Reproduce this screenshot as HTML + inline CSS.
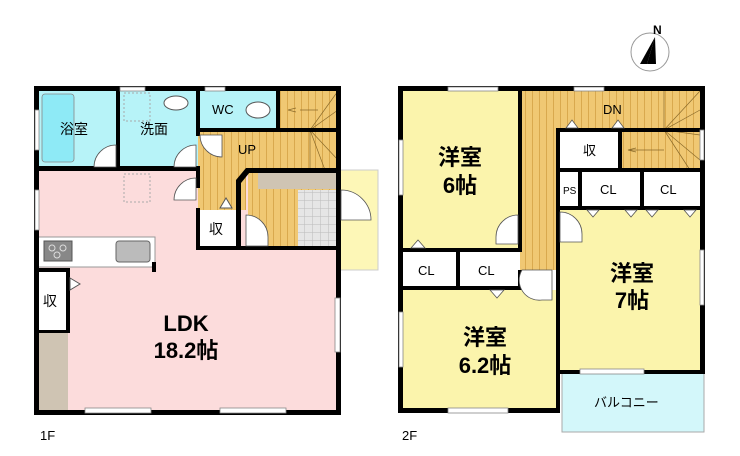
<!DOCTYPE html>
<html><head><meta charset="utf-8"><style>
html,body{margin:0;padding:0;background:#fff;}
svg{display:block;font-family:"Liberation Sans","Noto Sans CJK JP",sans-serif;}
</style></head><body>
<svg width="740" height="456" viewBox="0 0 740 456" xmlns="http://www.w3.org/2000/svg">
<defs>
<pattern id="st" width="7" height="10" patternUnits="userSpaceOnUse"><rect width="7" height="10" fill="#f0c873"/><line x1="0.5" y1="0" x2="0.5" y2="10" stroke="#d9a94e" stroke-width="1"/></pattern>
<pattern id="tile" width="8" height="8" patternUnits="userSpaceOnUse"><rect width="8" height="8" fill="#e6e6e6"/><path d="M0 0H8M0 0V8" stroke="#bbb" stroke-width="1"/></pattern>
</defs>
<circle cx="650" cy="52" r="19" fill="none" stroke="#999" stroke-width="1"/>
<polygon points="655,37 647,64 640,64" fill="#000"/><polygon points="655,37 656,64 647,64" fill="#000"/>
<text x="653" y="34" font-size="12" font-weight="bold">N</text>

<!-- ===== 1F ===== -->
<rect x="37" y="168" width="303" height="244" fill="#fcdcdc"/>
<rect x="37" y="88" width="81" height="80" fill="#b7f3f8"/>
<rect x="42" y="94" width="32" height="68" rx="3" fill="#8eeaf6" stroke="#888" stroke-width="0.8"/>
<rect x="118" y="88" width="80" height="80" fill="#b7f3f8"/>
<rect x="198" y="88" width="80" height="42" fill="#b7f3f8"/>
<rect x="278" y="88" width="60" height="82" fill="url(#st)"/>
<rect x="198" y="130" width="140" height="40" fill="url(#st)"/>
<rect x="198" y="170" width="48" height="40" fill="url(#st)"/>
<rect x="248" y="170" width="90" height="78" fill="url(#st)"/>
<g stroke="#8a6a2a" stroke-width="0.7" fill="none">
<path d="M310 130 L338 91 M310 130 L338 110 M310 130 L338 130 M310 130 L325 170 M310 130 L338 160 M310 130 V170"/>
<path d="M300 110 H318 M296 112 L288 110 L296 108"/>
</g>
<rect x="258" y="172" width="80" height="17" fill="#cfc4b3"/>
<rect x="298" y="190" width="40" height="58" fill="url(#tile)"/>
<rect x="198" y="210" width="40" height="38" fill="#fff"/>
<rect x="340" y="170" width="38" height="100" fill="#fdf7b7" stroke="#ccc" stroke-width="1"/>
<rect x="37" y="237" width="118" height="30" fill="#fff" stroke="#999" stroke-width="1"/>
<rect x="44" y="241" width="28" height="20" fill="#888" stroke="#555"/>
<circle cx="52" cy="248" r="3" fill="none" stroke="#ddd"/><circle cx="63" cy="248" r="3" fill="none" stroke="#ddd"/><circle cx="57" cy="255" r="3" fill="none" stroke="#ddd"/>
<rect x="116" y="241" width="34" height="21" rx="3" fill="#bbb" stroke="#666"/>
<rect x="37" y="272" width="31" height="58" fill="#fff"/>
<rect x="37" y="332" width="31" height="80" fill="#cfc4b3"/>
<rect x="124" y="174" width="26" height="28" fill="none" stroke="#aaa" stroke-dasharray="2,2"/>
<rect x="124" y="93" width="26" height="28" fill="none" stroke="#aaa" stroke-dasharray="2,2"/>
<ellipse cx="176" cy="103" rx="12" ry="7" fill="#fff" stroke="#555"/>
<ellipse cx="258" cy="110" rx="12" ry="8" fill="#fff" stroke="#555"/>
<g fill="#000">
<rect x="34" y="86" width="306" height="5"/>
<rect x="34" y="86" width="5" height="329"/>
<rect x="34" y="410" width="306" height="5"/>
<rect x="336" y="86" width="5" height="329"/>
<rect x="34" y="166" width="166" height="5"/>
<rect x="116" y="86" width="4" height="85"/>
<rect x="196" y="86" width="4" height="50"/>
<rect x="196" y="128" width="142" height="4"/>
<rect x="276" y="86" width="4" height="46"/>
<rect x="196" y="168" width="4" height="20"/>
<rect x="196" y="208" width="4" height="42"/>
<rect x="196" y="246" width="142" height="4"/>
<rect x="236" y="180" width="5" height="68"/>
<rect x="246" y="168" width="92" height="5"/>
<rect x="66" y="268" width="4" height="64"/>
<rect x="34" y="268" width="36" height="4"/>
<rect x="34" y="330" width="36" height="3"/>
<rect x="152" y="262" width="4" height="10"/>
</g>
<polygon points="236,180 246,168 250,172 241,183" fill="#000"/>
<g fill="#fff" stroke="#888" stroke-width="0.8">
<rect x="85" y="408" width="66" height="5"/><rect x="220" y="408" width="66" height="5"/>
<rect x="335" y="298" width="5" height="54"/>
<rect x="35" y="110" width="4" height="40"/><rect x="35" y="190" width="4" height="40"/>
<rect x="120" y="87" width="25" height="4"/><rect x="205" y="87" width="20" height="4"/>
</g>
<g fill="#fff" stroke="#555" stroke-width="0.8">
<path d="M116 145 A22 22 0 0 0 94 167 H116Z"/>
<path d="M196 145 A22 22 0 0 0 174 167 H196Z"/>
<path d="M200 135 A22 22 0 0 0 222 157 V135Z"/>
<path d="M196 178 A22 22 0 0 0 174 200 H196Z"/>
<path d="M246 215 A22 22 0 0 1 268 237 V246 H246Z"/>
<path d="M341 190 A30 30 0 0 1 371 220 H341Z"/>
</g>
<polygon points="220,208 226,198 232,208" fill="#fff" stroke="#555"/>
<polygon points="70,278 80,284 70,290" fill="#fff" stroke="#555"/>
<g font-size="14">
<text x="60" y="134">浴室</text><text x="140" y="134">洗面</text>
<text x="212" y="114" font-size="13">WC</text><text x="238" y="154" font-size="13">UP</text>
<text x="209" y="234">収</text><text x="43" y="306">収</text>
</g>
<text x="186" y="331" font-size="22" text-anchor="middle" font-weight="bold">LDK</text>
<text x="186" y="358" font-size="22" text-anchor="middle" font-weight="bold">18.2帖</text>
<text x="40" y="440" font-size="13">1F</text>

<!-- ===== 2F ===== -->
<rect x="400" y="88" width="120" height="162" fill="#fbf4ac"/>
<rect x="520" y="88" width="182" height="42" fill="url(#st)"/>
<rect x="520" y="88" width="38" height="182" fill="url(#st)"/>
<rect x="620" y="130" width="82" height="40" fill="url(#st)"/>
<g stroke="#8a6a2a" stroke-width="0.7" fill="none">
<path d="M664 130 L700 91 M664 130 L700 110 M664 130 L700 135 M664 130 L700 160 M664 130 L690 170 M664 130 V88"/>
<path d="M630 150 H664 M636 152 L628 150 L636 148"/>
</g>
<rect x="560" y="130" width="60" height="40" fill="#fff"/>
<rect x="560" y="170" width="142" height="40" fill="#fff"/>
<rect x="558" y="210" width="144" height="162" fill="#fbf4ac"/>
<rect x="400" y="250" width="120" height="38" fill="#fff"/>
<rect x="400" y="288" width="158" height="122" fill="#fbf4ac"/>
<rect x="520" y="270" width="38" height="20" fill="#fff"/>
<rect x="562" y="372" width="142" height="60" fill="#d3f7fa" stroke="#aaa" stroke-width="1"/>
<g fill="#000">
<rect x="398" y="86" width="306" height="5"/>
<rect x="398" y="86" width="5" height="327"/>
<rect x="398" y="408" width="162" height="5"/>
<rect x="700" y="86" width="5" height="288"/>
<rect x="518" y="86" width="4" height="164"/>
<rect x="398" y="248" width="124" height="4"/>
<rect x="398" y="286" width="124" height="4"/>
<rect x="456" y="248" width="4" height="42"/>
<rect x="518" y="270" width="4" height="20"/>
<rect x="556" y="128" width="4" height="284"/>
<rect x="556" y="128" width="148" height="4"/>
<rect x="618" y="128" width="4" height="42"/>
<rect x="556" y="168" width="148" height="4"/>
<rect x="578" y="168" width="4" height="40"/>
<rect x="640" y="168" width="4" height="40"/>
<rect x="556" y="206" width="148" height="4"/>
<rect x="556" y="370" width="148" height="4"/>
</g>
<g fill="#fff" stroke="#888" stroke-width="0.8">
<rect x="448" y="87" width="50" height="4"/><rect x="574" y="87" width="30" height="4"/>
<rect x="399" y="140" width="4" height="55"/><rect x="399" y="312" width="4" height="55"/>
<rect x="448" y="408" width="60" height="5"/><rect x="580" y="369" width="64" height="5"/>
<rect x="700" y="250" width="4" height="55"/><rect x="700" y="130" width="4" height="30"/>
</g>
<g fill="#fff" stroke="#555" stroke-width="0.8">
<path d="M518 215 A22 22 0 0 0 496 237 V244 H518Z"/>
<path d="M560 212 A22 22 0 0 1 582 234 V242 H560Z"/>
<path d="M522 270 A20 20 0 0 0 542 300 H552 V270Z"/>
</g>
<g fill="#fff" stroke="#555" stroke-width="0.8">
<polygon points="411,248 418,240 425,248"/>
<polygon points="566,128 572,120 578,128"/><polygon points="612,128 618,120 624,128"/>
<polygon points="490,290 497,298 504,290"/>
<polygon points="587,210 593,217 599,210"/><polygon points="625,210 631,217 637,210"/>
<polygon points="646,210 652,217 658,210"/><polygon points="684,210 690,217 696,210"/>
</g>
<g font-size="13">
<text x="603" y="114">DN</text><text x="583" y="155">収</text>
<text x="563" y="194" font-size="10">PS</text>
<text x="600" y="194">CL</text><text x="660" y="194">CL</text>
<text x="418" y="275">CL</text><text x="478" y="275">CL</text>
<text x="594" y="407">バルコニー</text>
</g>
<g font-size="22" text-anchor="middle" font-weight="bold">
<text x="460" y="165">洋室</text><text x="460" y="193">6帖</text>
<text x="632" y="281">洋室</text><text x="632" y="308">7帖</text>
<text x="485" y="345">洋室</text><text x="485" y="373">6.2帖</text>
</g>
<text x="402" y="440" font-size="13">2F</text>
</svg>
</body></html>
